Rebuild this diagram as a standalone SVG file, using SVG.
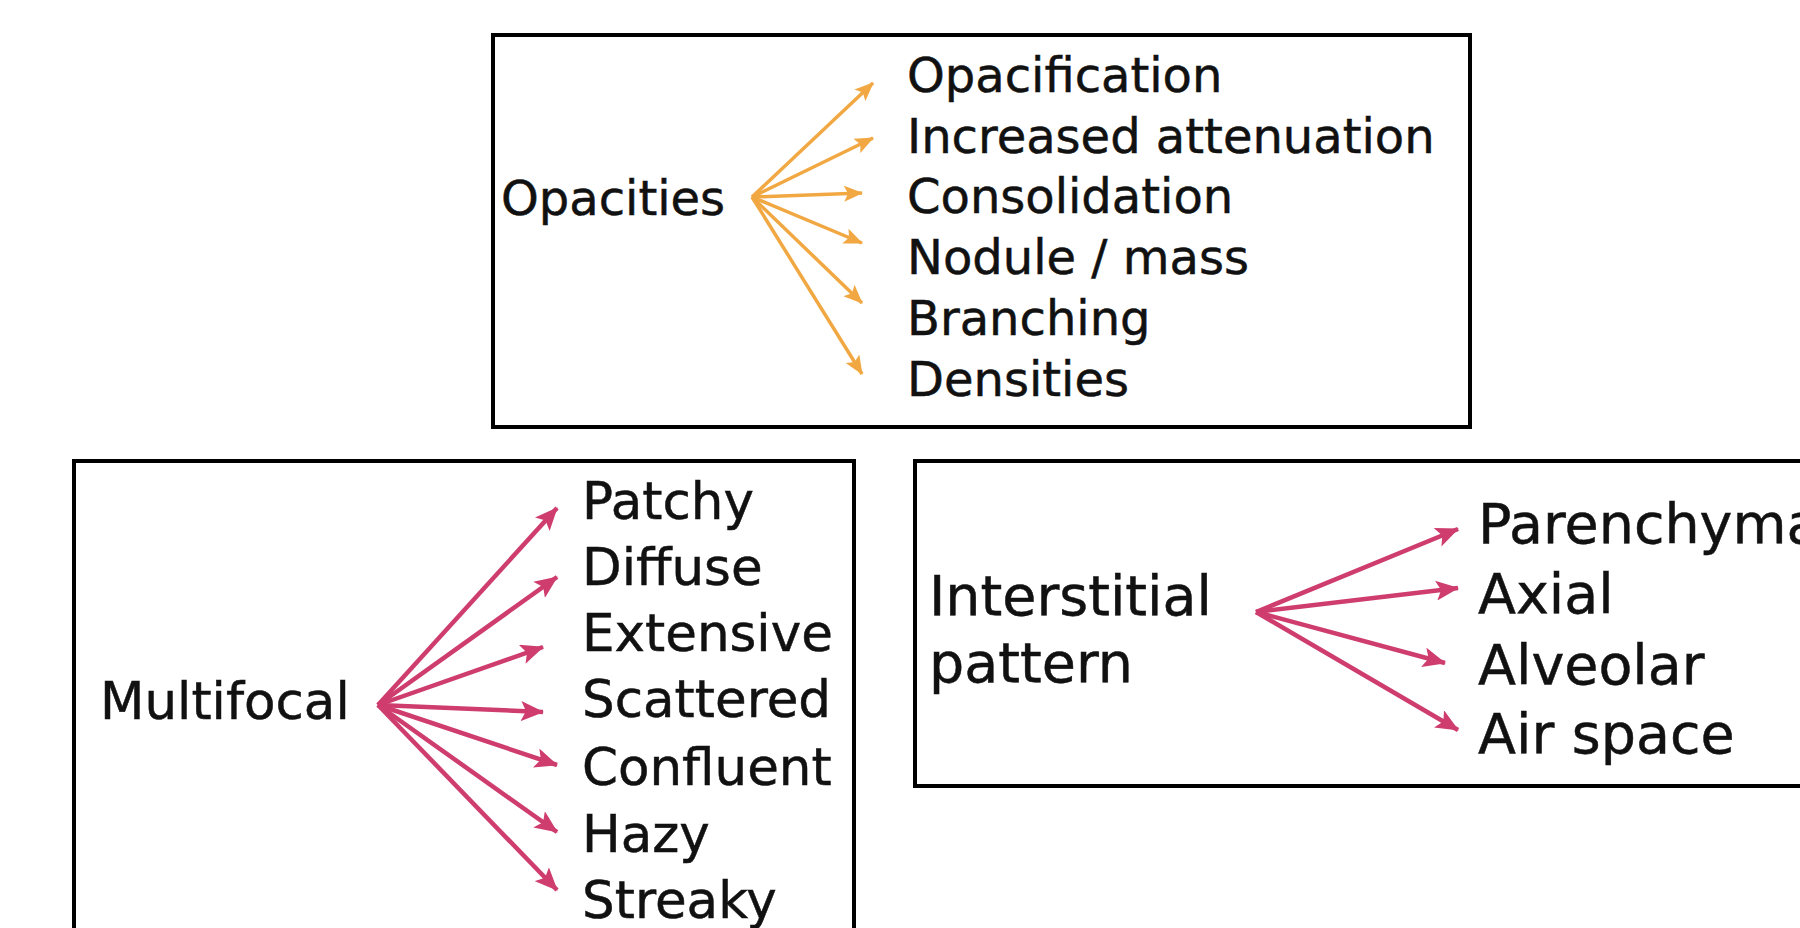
<svg xmlns="http://www.w3.org/2000/svg" width="1800" height="928" viewBox="0 0 1800 928">
<style>
.box{fill:#fff;stroke:#000;stroke-width:4}
.t{font-family:"DejaVu Sans","Liberation Sans",sans-serif;fill:#111;stroke:#111;stroke-width:0.5}
.top{font-size:48px}
.bl{font-size:51.5px}
.br{font-size:55.5px}
.ao{stroke:#F1A843;stroke-width:3.5;fill:none;marker-end:url(#mo)}
.ap{stroke:#CE3D6E;stroke-width:4.5;fill:none;marker-end:url(#mp)}
</style>
<defs>
<marker id="mo" markerUnits="userSpaceOnUse" markerWidth="20" markerHeight="16" refX="18" refY="8" orient="auto" viewBox="0 0 20 16">
<path d="M0,0 L19,8 L0,16 L4,8 Z" fill="#F1A843"/>
</marker>
<marker id="mp" markerUnits="userSpaceOnUse" markerWidth="24" markerHeight="20" refX="22" refY="10" orient="auto" viewBox="0 0 24 20">
<path d="M0,0 L23,10 L0,20 L5,10 Z" fill="#CE3D6E"/>
</marker>
</defs>
<rect width="1800" height="928" fill="#fff"/>

<g id="opacities">
<rect class="box" x="493" y="35" width="977" height="392"/>
<text class="t top" x="501" y="215">Opacities</text>
<text class="t top" x="907" y="92">Opacification</text>
<text class="t top" x="907" y="153">Increased attenuation</text>
<text class="t top" x="907" y="213">Consolidation</text>
<text class="t top" x="907" y="274">Nodule / mass</text>
<text class="t top" x="907" y="335">Branching</text>
<text class="t top" x="907" y="396">Densities</text>
</g>

<g id="multifocal">
<rect class="box" x="74" y="461" width="780" height="520"/>
<text class="t bl" x="100" y="719">Multifocal</text>
<text class="t bl" x="582" y="519">Patchy</text>
<text class="t bl" x="582" y="585">Diffuse</text>
<text class="t bl" x="582" y="651">Extensive</text>
<text class="t bl" x="582" y="717">Scattered</text>
<text class="t bl" x="582" y="785">Confluent</text>
<text class="t bl" x="582" y="852">Hazy</text>
<text class="t bl" x="582" y="918">Streaky</text>
</g>

<g id="interstitial">
<rect class="box" x="915" y="461" width="1000" height="325"/>
<text class="t br" x="929" y="615">Interstitial</text>
<text class="t br" x="929" y="682">pattern</text>
<text class="t br" x="1478" y="543">Parenchyma</text>
<text class="t br" x="1478" y="613">Axial</text>
<text class="t br" x="1478" y="684">Alveolar</text>
<text class="t br" x="1478" y="753">Air space</text>
</g>

<g id="connectors">
<line class="ao" x1="752" y1="197" x2="873" y2="83"/>
<line class="ao" x1="752" y1="197" x2="873" y2="138"/>
<line class="ao" x1="752" y1="197" x2="862" y2="193"/>
<line class="ao" x1="752" y1="197" x2="862" y2="243"/>
<line class="ao" x1="752" y1="197" x2="862" y2="303"/>
<line class="ao" x1="752" y1="197" x2="862" y2="374"/>

<line class="ap" x1="378" y1="705" x2="557" y2="508"/>
<line class="ap" x1="378" y1="705" x2="557" y2="577"/>
<line class="ap" x1="378" y1="705" x2="543" y2="647"/>
<line class="ap" x1="378" y1="705" x2="543" y2="712"/>
<line class="ap" x1="378" y1="705" x2="557" y2="765"/>
<line class="ap" x1="378" y1="705" x2="557" y2="832"/>
<line class="ap" x1="378" y1="705" x2="557" y2="890"/>

<line class="ap" x1="1256" y1="612" x2="1458" y2="529"/>
<line class="ap" x1="1256" y1="612" x2="1458" y2="588"/>
<line class="ap" x1="1256" y1="612" x2="1445" y2="663"/>
<line class="ap" x1="1256" y1="612" x2="1458" y2="730"/>
</g>
</svg>
